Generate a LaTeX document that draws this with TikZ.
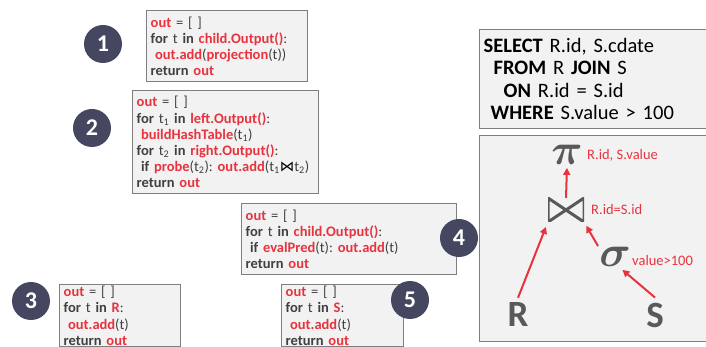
\documentclass[tikz,border=0pt]{standalone}
\usepackage{fontspec}
\setmainfont{Carlito}
\newfontfamily\symfont{DejaVu Sans}
\usetikzlibrary{arrows.meta, positioning}
\definecolor{hot}{HTML}{E8333F}
\definecolor{ink}{HTML}{404040}
\definecolor{slate}{HTML}{44475F}
\definecolor{panel}{HTML}{F2F2F2}
\definecolor{frame}{HTML}{7F7F7F}
\definecolor{opgray}{HTML}{595959}
\newcommand{\kw}[1]{\textbf{#1}}
\newcommand{\hot}[1]{\textcolor{hot}{\textbf{#1}}}
\newcommand{\ind}{\hspace*{0.3em}}
\newcommand{\sub}[1]{\textsubscript{#1}}
\frenchspacing

\begin{document}
\begin{tikzpicture}[x=1pt, y=-1pt,
  codebox/.style={draw=frame, fill=panel, line width=1.4pt, anchor=north west,
    align=left, inner xsep=4pt, inner ysep=3pt, minimum height=71pt,
    text=ink, font=\fontsize{14.5}{16.2}\selectfont},
  badge/.style={circle, fill=slate, minimum size=38pt, inner sep=0pt,
    text=white, font=\fontsize{24}{24}\selectfont\bfseries},
  opsym/.style={text=opgray, inner sep=0.5pt, scale=1.75,
    font=\fontsize{24}{24}\selectfont\boldmath},
  relname/.style={text=opgray, inner sep=5pt, font=\fontsize{37}{37}\selectfont\bfseries},
  oplabel/.style={text=hot, anchor=west, inner sep=0pt, font=\fontsize{14.5}{14.5}\selectfont},
  flow/.style={draw=hot, line width=2pt, -{Triangle[length=7pt,width=7pt]}}
]
  \clip (0,0) rectangle (706,347);
  \fill[white] (0,0) rectangle (706,347);

  % operator code
  \node[codebox, text width=153pt] (proj) at (146,10) {%
    \hot{out} = [ ]\\
    \kw{for} t \kw{in} \hot{child.Output()}:\\
    \ind\hot{out.add}(\hot{projection}(t))\\
    \kw{return} \hot{out}};
  \node[codebox, text width=178pt, minimum height=103pt] (join) at (132,90) {%
    \hot{out} = [ ]\\
    \kw{for} t\sub{1} \kw{in} \hot{left.Output()}:\\
    \ind\hot{buildHashTable}(t\sub{1})\\
    \kw{for} t\sub{2} \kw{in} \hot{right.Output()}:\\
    \ind\kw{if} \hot{probe}(t\sub{2}): \hot{out.add}(t\sub{1}\textcolor{black}{\symfont ⋈}t\sub{2})\\
    \kw{return} \hot{out}};
  \node[codebox, text width=207pt] (filter) at (241,203) {%
    \hot{out} = [ ]\\
    \kw{for} t \kw{in} \hot{child.Output()}:\\
    \ind\kw{if} \hot{evalPred}(t): \hot{out.add}(t)\\
    \kw{return} \hot{out}};
  \node[codebox, text width=113pt, inner ysep=1.5pt, minimum height=0pt] (scanR) at (59,284) {%
    \hot{out} = [ ]\\
    \kw{for} t \kw{in} \hot{R}:\\
    \ind\hot{out.add}(t)\\
    \kw{return} \hot{out}\\[10pt]};
  \node[codebox, text width=114pt, inner ysep=1.5pt, minimum height=0pt] (scanS) at (281,284) {%
    \hot{out} = [ ]\\
    \kw{for} t \kw{in} \hot{S}:\\
    \ind\hot{out.add}(t)\\
    \kw{return} \hot{out}\\[10pt]};

  % step numbers
  \node[badge] (b1) at (103,44) {1};
  \node[badge] (b2) at (92,128) {2};
  \node[badge] (b3) at (31,301) {3};
  \node[badge] (b4) at (459,238) {4};
  \node[badge] (b5) at (410,300) {5};

  % query text
  \node[draw=frame, fill=panel, line width=1.4pt, anchor=north west, align=left,
        text width=250pt, minimum height=99pt, inner xsep=4pt, text=black,
        font=\fontsize{20.5}{22.5}\selectfont] (sql) at (479,29) {%
    \kw{SELECT} R.id, S.cdate\\
    \hspace*{10pt}\kw{FROM} R \kw{JOIN} S\\
    \hspace*{20pt}\kw{ON} R.id = S.id\\
    \hspace*{7pt}\kw{WHERE} S.value > 100};

  % query plan
  \node[draw=frame, fill=panel, line width=1.4pt, anchor=north west,
        minimum width=260pt, minimum height=206pt] (plan) at (479,135) {};
  \node[opsym] (opProj) at (567,155) {$\pi$};
  \node[minimum width=36pt, minimum height=24pt, inner sep=0pt,
        path picture={\draw[opgray, line width=3pt, line join=miter]
          (path picture bounding box.south west) -- (path picture bounding box.north east)
          -- (path picture bounding box.south east) -- (path picture bounding box.north west)
          -- cycle;}] (opJoin) at (566,210) {};
  \node[opsym] (opFilter) at (615,257) {$\sigma$};
  \node[relname] (relR) at (518,315) {R};
  \node[relname] (relS) at (655,315) {S};

  \node[oplabel] (lblProj) at (587,155) {R.id, S.value};
  \node[oplabel] (lblJoin) at (591,210) {R.id=S.id};
  \node[oplabel] (lblFilter) at (632,261) {value>100};

  \draw[flow, shorten >=2pt] (opJoin.north) -- (opProj.south);
  \draw[flow, shorten >=5pt] (relR.north) -- (opJoin.south west);
  \draw[flow, shorten >=4pt] (opFilter.north west) -- (opJoin.south east);
  \draw[flow, shorten >=3pt] (relS.north) -- (opFilter.-65);
\end{tikzpicture}
\end{document}
